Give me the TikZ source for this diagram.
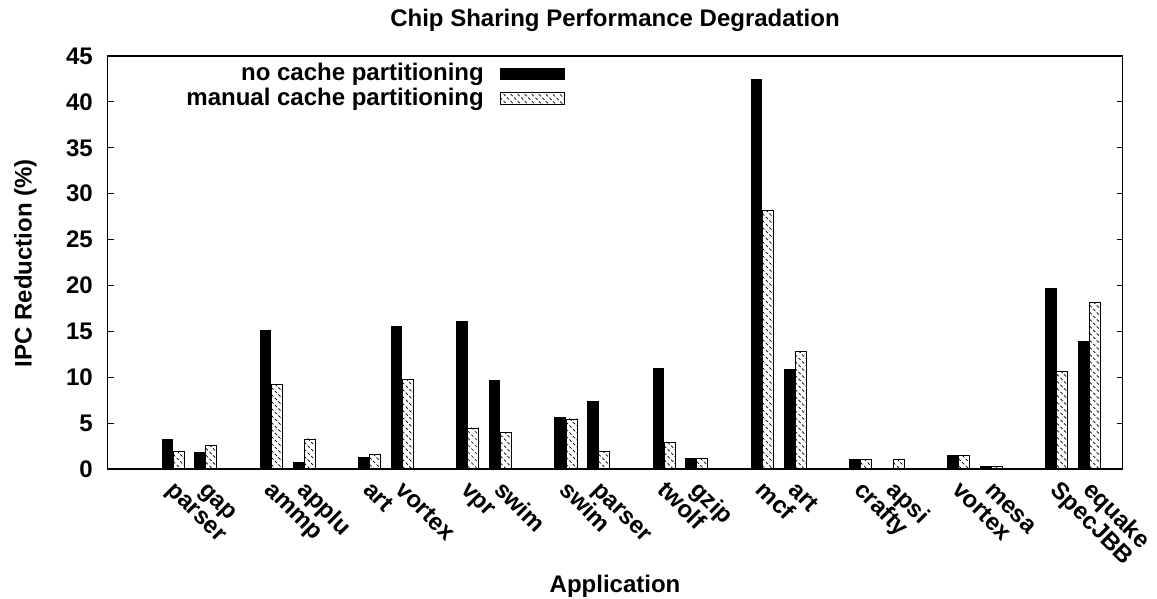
\documentclass[tikz,border=0pt]{standalone}
\usepackage{fontspec}
\setmainfont{Liberation Sans}
\newcommand{\HatchRect}[4]{%
  \begin{scope}
    \clip (#1,#2) rectangle (#3,#4);
    \fill[white] (#1,#2) rectangle (#3,#4);
    \pgfmathsetmacro\hatchlen{#4-#2+#3-#1}
    \pgfmathsetmacro\hatchw{#3-#1}
    \foreach \t in {0,7,...,\hatchlen} {
      \draw[hatchline] (#1,#2+\t-\hatchw) -- (#3,#2+\t);
    }
  \end{scope}
  \draw[hatchborder] (#1,#2) rectangle (#3,#4);
}
\begin{document}
\begin{tikzpicture}[x=1pt,y=-1pt,
  font=\fontsize{24}{28}\selectfont\bfseries,
  hatchline/.style={line width=0.7pt,dash pattern=on 3pt off 2pt,black},
  hatchborder/.style={line width=0.8pt,black},
  lbl/.style={anchor=base west,rotate=-45,inner sep=0pt},
  ticklbl/.style={anchor=east,inner sep=0pt},
  frame/.style={line width=1.2pt,black}]
\useasboundingbox (0,0) rectangle (1157,598);
\def\Xo{107.7}\def\Xu{32.73}\def\Yo{469}\def\Yu{9.178}
% bars
\foreach \p/\a/\b/\n [count=\i] in {
  2/3.27/1.93/parser, 3/1.85/2.58/gap, 5/15.14/9.22/ammp, 6/0.76/3.27/applu,
  8/1.34/1.6/art, 9/15.6/9.8/vortex, 11/16.1/4.47/vpr, 12/9.73/4.03/swim,
  14/5.7/5.45/swim, 15/7.37/1.93/parser, 17/10.97/2.87/twolf, 18/1.16/1.12/gzip,
  20/42.5/28.18/mcf, 21/10.93/12.82/art, 23/1.13/1.05/crafty, 24/0.1/1.05/apsi,
  26/1.49/1.45/vortex, 27/0.29/0.3/mesa, 29/19.72/10.64/SpecJBB, 30/13.95/18.16/equake} {
  \pgfmathsetmacro\xc{\Xo+\p*\Xu}
  \pgfmathsetmacro\xl{\xc-11.5}
  \pgfmathsetmacro\xr{\xc+11}
  \pgfmathsetmacro\ya{\Yo-\a*\Yu}
  \pgfmathsetmacro\yb{\Yo-\b*\Yu}
  \fill[black] (\xl,\ya) rectangle (\xc,\Yo);
  \HatchRect{\xc}{\yb}{\xr}{\Yo}
  \node[lbl] (lbl\i) at (\xc-7.5,491) {\n};
}
% frame and ticks
\draw[frame] (107.7,56) rectangle (1122.3,469);
\foreach \v [count=\j] in {0,5,...,45} {
  \pgfmathsetmacro\yy{\Yo-\v*\Yu}
  \draw[frame] (107.7,\yy) -- (113.5,\yy);
  \draw[frame] (1122.3,\yy) -- (1116.5,\yy);
  \node[ticklbl] (tk\j) at (93,\yy) {\v};
}
% titles
\node[anchor=base,inner sep=0pt] (title) at (615,26) {Chip Sharing Performance Degradation};
\node[anchor=base,inner sep=0pt] (xlab) at (615,592) {Application};
\node[anchor=base,rotate=90,inner sep=0pt] (ylab) at (31.5,263) {IPC Reduction (\%)};
% legend
\node[anchor=base east,inner sep=0pt] (leg1) at (484,80.5) {no cache partitioning};
\node[anchor=base east,inner sep=0pt] (leg2) at (484,105) {manual cache partitioning};
\fill[black] (500,67.7) rectangle (564.7,80);
\HatchRect{500}{92}{564.7}{104.3}
\end{tikzpicture}
\end{document}
